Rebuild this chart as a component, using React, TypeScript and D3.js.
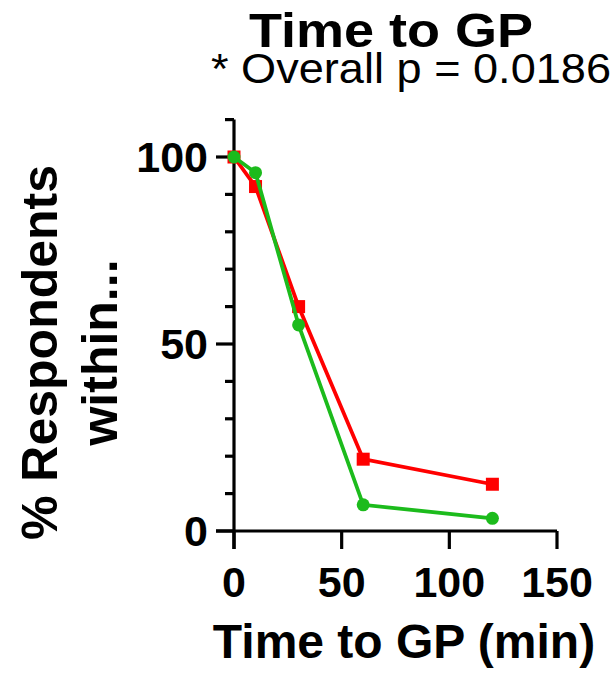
import React from "react";
import * as d3 from "d3";

const times = [0, 10, 30, 60, 120];
const redValues = [100, 92.1, 60.0, 19.2, 12.5];
const greenValues = [100, 95.8, 55.1, 7.0, 3.4];
const xTicks = [0, 50, 100, 150];
const yTicks = [0, 50, 100];
const yMinorTicks = [10, 20, 30, 40, 60, 70, 80, 90, 110];
const title = "Time to GP";
const subtitle = "* Overall p = 0.0186";
const xLabel = "Time to GP (min)";
const yLabelLines = ["% Respondents", "within..."];

const W = 615;
const H = 677;
const FONT = "'Liberation Sans', Arial, sans-serif";
const RED = "#ff0000";
const GREEN = "#1cbb1c";

export default function App() {
  const x = d3.scaleLinear().domain([0, 150]).range([234, 557]);
  const y = d3.scaleLinear().domain([0, 110]).range([531, 119.6]);
  const line = d3
    .line<number>()
    .x((_, i) => x(times[i]))
    .y((d) => y(d));
  const majorLen = 18;
  const minorLen = 9;
  const axisW = 3.2;

  return (
    <svg
      width={W}
      height={H}
      style={{ position: "absolute", left: 0, top: 0, background: "#fff" }}
      fontFamily={FONT}
    >
      <rect width={W} height={H} fill="#fff" />
      {/* title */}
      <text
        x={391}
        y={47}
        textAnchor="middle"
        fontSize={48}
        fontWeight="bold"
        textLength={284}
        lengthAdjust="spacingAndGlyphs"
      >
        {title}
      </text>
      <text
        x={411}
        y={83}
        textAnchor="middle"
        fontSize={43}
        textLength={400}
        lengthAdjust="spacingAndGlyphs"
      >
        {subtitle}
      </text>

      {/* y axis */}
      <line x1={x(0)} x2={x(0)} y1={y(110)} y2={y(0) + majorLen} stroke="#000" strokeWidth={axisW} />
      {yTicks.map((t) => (
        <g key={"yt" + t}>
          <line x1={x(0) - majorLen} x2={x(0)} y1={y(t)} y2={y(t)} stroke="#000" strokeWidth={axisW} />
          <text
            x={x(0) - 26}
            y={y(t)}
            dy="0.36em"
            textAnchor="end"
            fontSize={43}
            fontWeight="bold"
          >
            {t}
          </text>
        </g>
      ))}
      {yMinorTicks.map((t) => (
        <line key={"ym" + t} x1={x(0) - minorLen} x2={x(0)} y1={y(t)} y2={y(t)} stroke="#000" strokeWidth={axisW} />
      ))}

      {/* x axis */}
      <line x1={x(0) - majorLen} x2={x(150)} y1={y(0)} y2={y(0)} stroke="#000" strokeWidth={axisW} />
      {xTicks.map((t) => (
        <g key={"xt" + t}>
          <line x1={x(t)} x2={x(t)} y1={y(0)} y2={y(0) + majorLen} stroke="#000" strokeWidth={axisW} />
          <text x={x(t)} y={597} textAnchor="middle" fontSize={43} fontWeight="bold">
            {t}
          </text>
        </g>
      ))}

      {/* axis labels */}
      <text x={404} y={658} textAnchor="middle" fontSize={48} fontWeight="bold">
        {xLabel}
      </text>
      <g transform="translate(57,352.5) rotate(-90)">
        <text x={0} y={0} textAnchor="middle" fontSize={50} fontWeight="bold">
          {yLabelLines[0]}
        </text>
        <text x={0} y={60} textAnchor="middle" fontSize={50} fontWeight="bold">
          {yLabelLines[1]}
        </text>
      </g>

      {/* red series */}
      <path d={line(redValues) || ""} fill="none" stroke={RED} strokeWidth={3.8} />
      {redValues.map((v, i) => (
        <rect key={"r" + i} x={x(times[i]) - 6.5} y={y(v) - 6.5} width={13} height={13} fill={RED} />
      ))}
      {/* green series */}
      <path d={line(greenValues) || ""} fill="none" stroke={GREEN} strokeWidth={3.8} />
      {greenValues.map((v, i) => (
        <circle key={"g" + i} cx={x(times[i])} cy={y(v)} r={6.5} fill={GREEN} />
      ))}
    </svg>
  );
}
